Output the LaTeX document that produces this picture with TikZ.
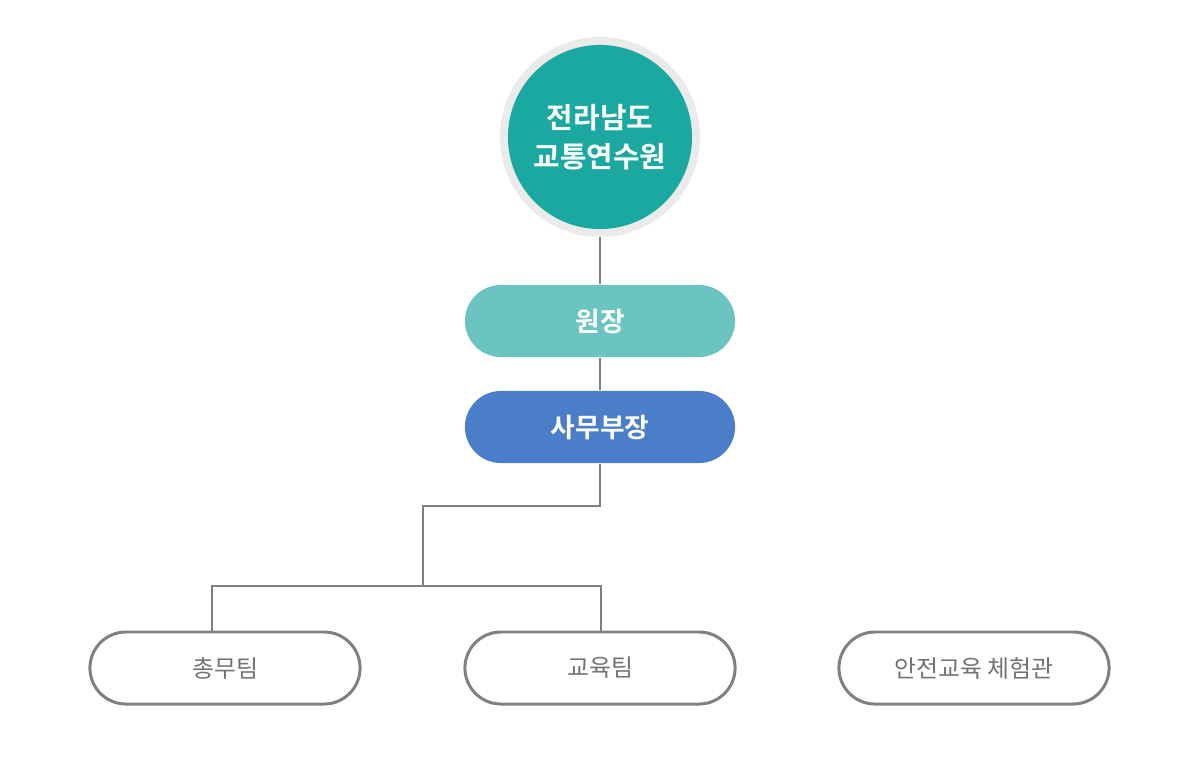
\documentclass[tikz,border=0pt]{standalone}
\usepackage{fontspec}
\setmainfont{Noto Sans CJK KR}
\newfontfamily\krb{Noto Sans CJK KR Bold}
\begin{document}
\begin{tikzpicture}[x=0.01cm,y=-0.01cm]
\tikzset{
 pill/.style={rounded corners=0.36cm,minimum width=2.7cm,minimum height=0.72cm,inner sep=0pt,text=white,font=\fontsize{7.6}{9}\selectfont\krb},
 team/.style={rounded corners=0.36cm,minimum width=2.7cm,minimum height=0.72cm,inner sep=0pt,draw=black!50,line width=0.85pt,text=black!55,font=\fontsize{6.8}{8}\selectfont},
 conn/.style={draw=black!50,line width=0.3pt}
}
\useasboundingbox (0,0) rectangle (1200,760);
\fill[black!8] (600,137) circle (1cm);
\node[circle,fill={rgb,255:red,27;green,168;blue,160},minimum size=1.84cm,inner sep=0pt,text=white,align=center,font=\fontsize{8.2}{11}\selectfont\krb] (top) at (600,137) {전라남도\\교통연수원};
\node[pill,fill={rgb,255:red,107;green,196;blue,191}] (ws) at (600,321) {원장};
\node[pill,fill={rgb,255:red,74;green,126;blue,200}] (sb) at (600,427) {사무부장};
\node[team] (t1) at (225,668) {총무팀};
\node[team] (t2) at (600,668) {교육팀};
\node[team] (t3) at (974,668) {안전교육 체험관};
\draw[conn] (600,237) -- (ws.north);
\draw[conn] (ws.south) -- (sb.north);
\coordinate (j1) at (423,586);
\draw[conn] (sb.south) -- (600,506) -- (423,506) -- (j1);
\draw[conn] (j1) -- (212,586) -- (212,632);
\draw[conn] (j1) -- (601,586) -- (601,632);
\end{tikzpicture}
\end{document}
